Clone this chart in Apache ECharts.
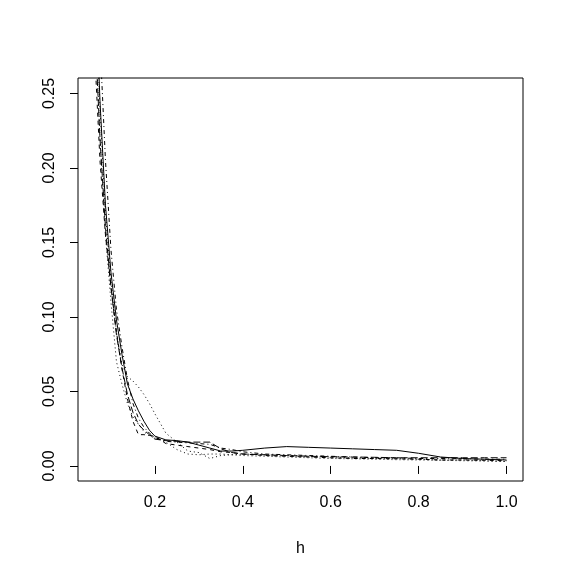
<!DOCTYPE html>
<html>
<head>
<meta charset="utf-8">
<script src="https://cdn.jsdelivr.net/npm/echarts@6/dist/echarts.min.js"></script>
<style>
  html, body { margin: 0; padding: 0; background: #fff; }
  #chart { width: 564px; height: 579px; }
</style>
</head>
<body>
<div id="chart"></div>
<script>
// bandwidth grid
const hs = [0.0625, 0.075, 0.0875, 0.1, 0.1125, 0.125, 0.1375, 0.15, 0.1625, 0.175, 0.1875, 0.2,
  0.225, 0.25, 0.275, 0.3, 0.325, 0.35, 0.375, 0.4, 0.45, 0.5, 0.55, 0.6, 0.65, 0.7, 0.75, 0.8,
  0.85, 0.9, 0.95, 1.0]

// curves
const solidVals = [0.34, 0.245, 0.175, 0.13, 0.098, 0.075, 0.055, 0.045, 0.037, 0.03, 0.024, 0.02,
  0.0175, 0.017, 0.016, 0.014, 0.012, 0.010, 0.010, 0.0105, 0.012, 0.013, 0.0125, 0.012, 0.0115,
  0.011, 0.0105, 0.0085, 0.006, 0.005, 0.0045, 0.004]
const dashedVals = [0.28, 0.205, 0.155, 0.12, 0.09, 0.065, 0.045, 0.03, 0.021, 0.021, 0.0205, 0.02,
  0.015, 0.014, 0.013, 0.012, 0.011, 0.0095, 0.009, 0.008, 0.007, 0.0065, 0.006, 0.0055, 0.005,
  0.005, 0.0048, 0.0045, 0.004, 0.004, 0.0038, 0.0035]
const dottedVals = [0.33, 0.24, 0.17, 0.125, 0.09, 0.068, 0.06, 0.057, 0.053, 0.048, 0.042, 0.035,
  0.022, 0.016, 0.01, 0.009, 0.005, 0.007, 0.0075, 0.008, 0.0075, 0.007, 0.0065, 0.006, 0.0055,
  0.005, 0.005, 0.0045, 0.004, 0.004, 0.0035, 0.003]
const dotdashVals = [0.42, 0.285, 0.205, 0.145, 0.105, 0.08, 0.058, 0.042, 0.032, 0.026, 0.022, 0.019,
  0.0165, 0.016, 0.0155, 0.015, 0.0145, 0.012, 0.011, 0.0095, 0.008, 0.0075, 0.007, 0.0065, 0.006,
  0.0055, 0.0055, 0.005, 0.005, 0.0048, 0.0046, 0.0045]
const longdashVals = [0.3, 0.22, 0.16, 0.12, 0.088, 0.066, 0.048, 0.036, 0.028, 0.024, 0.021, 0.018,
  0.017, 0.0165, 0.016, 0.016, 0.016, 0.0115, 0.009, 0.008, 0.0075, 0.007, 0.0065, 0.0062, 0.006,
  0.0058, 0.0055, 0.0055, 0.0055, 0.0055, 0.0055, 0.0055]
const dotted2Vals = [0.31, 0.22, 0.155, 0.11, 0.07, 0.055, 0.042, 0.033, 0.028, 0.023, 0.02, 0.019,
  0.016, 0.011, 0.008, 0.0075, 0.008, 0.008, 0.0075, 0.007, 0.0065, 0.006, 0.0055, 0.005, 0.0048,
  0.0045, 0.0042, 0.004, 0.0038, 0.0035, 0.0033, 0.003]

// tick labels
const xTicks = [0.2, 0.4, 0.6, 0.8, 1.0]
const yTicks = [0, 0.05, 0.1, 0.15, 0.2, 0.25]

const font = 'Liberation Sans, Arial, sans-serif'

function pairs(vals) {
  return hs.map((h, i) => [h, vals[i]])
}

function line(vals, dash) {
  return {
    type: 'line',
    data: pairs(vals),
    symbol: 'none',
    clip: true,
    lineStyle: { color: '#000', width: 1, type: dash },
    emphasis: { disabled: true }
  }
}

const chart = echarts.init(document.getElementById('chart'))
chart.setOption({
  animation: false,
  backgroundColor: '#fff',
  grid: {
    left: 78,
    right: 41,
    top: 78,
    bottom: 98,
    show: true,
    borderColor: '#000',
    borderWidth: 1
  },
  xAxis: {
    type: 'value',
    min: 0.025,
    max: 1.0375,
    name: 'h',
    nameLocation: 'middle',
    nameGap: 60,
    nameTextStyle: { color: '#000', fontSize: 16, fontFamily: font },
    axisLine: { show: false },
    splitLine: { show: false },
    axisTick: {
      show: true,
      length: 8,
      customValues: xTicks,
      lineStyle: { color: '#000' }
    },
    axisLabel: {
      customValues: xTicks,
      margin: 14,
      color: '#000',
      fontSize: 16,
      fontFamily: font,
      formatter: v => v.toFixed(1)
    }
  },
  yAxis: {
    type: 'value',
    min: -0.0101,
    max: 0.2604,
    axisLine: { show: false },
    splitLine: { show: false },
    axisTick: {
      show: true,
      length: 8,
      customValues: yTicks,
      lineStyle: { color: '#000' }
    },
    axisLabel: {
      customValues: yTicks,
      rotate: 90,
      margin: 20,
      color: '#000',
      fontSize: 16,
      fontFamily: font,
      formatter: v => v.toFixed(2)
    }
  },
  series: [
    line(solidVals, 'solid'),
    line(dashedVals, [4, 4]),
    line(dottedVals, [1, 3]),
    line(dotdashVals, [1, 3, 4, 3]),
    line(longdashVals, [7, 3]),
    line(dotted2Vals, [1, 3])
  ]
})
</script>
</body>
</html>
